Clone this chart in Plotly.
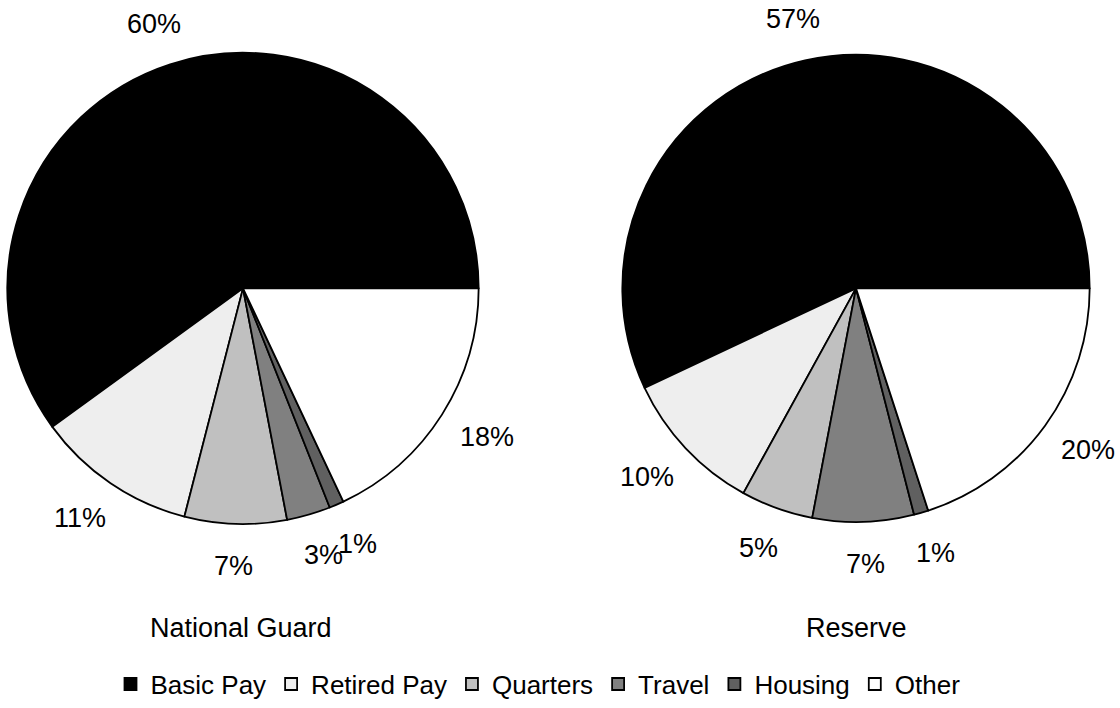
import math
import plotly.graph_objects as go

categories = ["Basic Pay", "Retired Pay", "Quarters", "Travel", "Housing", "Other"]
national_guard = [60, 11, 7, 3, 1, 18]
reserve = [57, 10, 5, 7, 1, 20]
colors = ["#000000", "#eeeeee", "#c0c0c0", "#808080", "#606060", "#ffffff"]
titles = ["National Guard", "Reserve"]

W, H = 1120, 708
font = dict(family="Liberation Sans, Arial, sans-serif", size=27, color="#000000")
legend_font = dict(family="Liberation Sans, Arial, sans-serif", size=26, color="#000000")

fig = go.Figure()
domains = [
    dict(x=[6 / W, 480 / W], y=[1 - 527 / H, 1 - 53 / H]),
    dict(x=[621 / W, 1091 / W], y=[1 - 525 / H, 1 - 55 / H]),
]
title_pos = [(241 / W, 1 - 632 / H), (856 / W, 1 - 632 / H)]

for vals, dom, name, (tx, ty) in zip([national_guard, reserve], domains, titles, title_pos):
    total = sum(vals)
    # first slice starts at 3 o'clock and slices run counterclockwise
    rotation = 90 - 360 * vals[0] / total
    fig.add_trace(go.Pie(
        labels=categories, values=vals, name=name,
        marker=dict(colors=colors, line=dict(color="#000000", width=1.8)),
        sort=False, direction="counterclockwise", rotation=rotation,
        textinfo="none", domain=dom, hoverinfo="label+value",
    ))
    # percentage labels placed radially just outside the pie
    cx = (dom["x"][0] + dom["x"][1]) / 2
    cy = (dom["y"][0] + dom["y"][1]) / 2
    r = min((dom["x"][1] - dom["x"][0]) * W, (dom["y"][1] - dom["y"][0]) * H) / 2
    cum = 0
    for v in vals:
        mid = (cum + v / 2) / total * 2 * math.pi
        cum += v
        fig.add_annotation(
            text=f"{v}%", xref="paper", yref="paper",
            x=cx + 1.22 * r * math.cos(mid) / W, y=cy + 1.18 * r * math.sin(mid) / H,
            showarrow=False, font=font, xanchor="center", yanchor="middle",
        )
    fig.add_annotation(text=name, x=tx, y=ty, xref="paper", yref="paper",
                       xanchor="center", yanchor="middle",
                       showarrow=False, font=font)

fig.update_layout(
    width=W, height=H, margin=dict(l=0, r=0, t=0, b=0),
    paper_bgcolor="white", plot_bgcolor="white", font=font,
    legend=dict(orientation="h", x=538 / W, xanchor="center", y=1 - 688 / H, yanchor="middle",
                font=legend_font, itemwidth=30, tracegroupgap=0),
)
fig.write_html("out.html", config={"displayModeBar": False},
               post_script="document.body.style.margin='0';")
